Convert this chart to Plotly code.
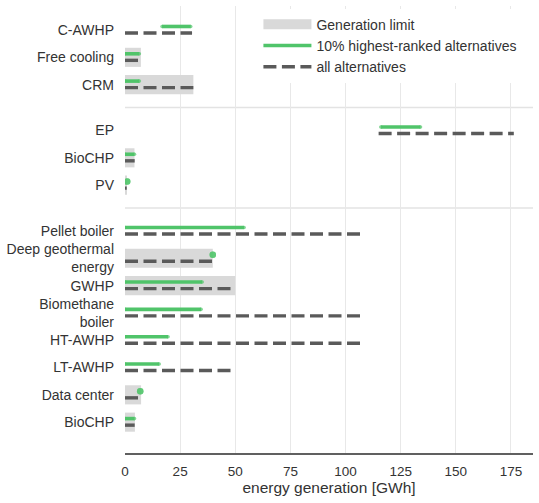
import plotly.graph_objects as go

# ---------------- data ----------------
groups = [
    ["C-AWHP", "Free cooling", "CRM"],
    ["EP", "BioCHP", "PV"],
    ["Pellet boiler", "Deep geothermal<br>energy", "GWHP", "Biomethane<br>boiler",
     "HT-AWHP", "LT-AWHP", "Data center", "BioCHP"],
]
generation_limit = [None, 7.2, 31.0,
                    None, 4.3, 0.5,
                    None, 39.8, 50.0, None, None, None, 7.3, 4.5]
top10_min = [16.8, 0.0, 0.0,
             116.0, 0.0, 1.0,
             0.0, 39.8, 0.0, 0.0, 0.0, 0.0, 6.9, 0.0]
top10_max = [29.8, 6.5, 6.5,
             134.0, 4.3, 1.0,
             54.0, 39.8, 35.0, 34.5, 19.5, 15.5, 6.9, 4.3]
all_min = [0.0, 0.0, 0.0,
           115.0, 0.0, 0.0,
           0.0, 0.0, 0.0, 0.0, 0.0, 0.0, 0.0, 0.0]
all_max = [30.4, 6.3, 31.0,
           176.3, 4.4, 0.8,
           107.0, 39.8, 49.5, 107.0, 107.0, 49.0, 6.3, 4.4]
x_ticks = [0, 25, 50, 75, 100, 125, 150, 175]

# ---------------- layout helpers ----------------
GAP = 1.68
labels, positions, separators = [], [], []
p = 0.0
for gi, g in enumerate(groups):
    if gi > 0:
        separators.append(p - 1 + GAP / 2)
        p += GAP - 1
    for lab in g:
        labels.append(lab)
        positions.append(p)
        p += 1

GREEN = "#50c46a"
DARK = "#5a5a5a"
LIGHT = "#d9d9d9"
OFF_G = -0.13
OFF_D = 0.11

fig = go.Figure()

fig.add_trace(go.Bar(
    x=generation_limit, y=positions, base=0, orientation="h", width=0.7,
    marker=dict(color=LIGHT, line=dict(width=0)), showlegend=False, hoverinfo="skip",
))
fig.add_trace(go.Scatter(
    x=[None], y=[None], mode="lines", name="Generation limit",
    line=dict(color=LIGHT, width=10),
))

gx, gy, gs = [], [], []
for y0, a, b in zip(positions, top10_min, top10_max):
    sz = 6.5 if a == b else 3.6
    gx += [a, b, None]
    gy += [y0 + OFF_G, y0 + OFF_G, None]
    gs += [sz, sz, 0]
fig.add_trace(go.Scatter(
    x=gx, y=gy, mode="lines+markers", name="10% highest-ranked alternatives",
    line=dict(color=GREEN, width=3.6),
    marker=dict(color=GREEN, size=gs, line=dict(width=0)),
))

dx, dy = [], []
for y0, a, b in zip(positions, all_min, all_max):
    dx += [a, b, None]
    dy += [y0 + OFF_D, y0 + OFF_D, None]
fig.add_trace(go.Scatter(
    x=dx, y=dy, mode="lines", name="all alternatives",
    line=dict(color=DARK, width=3.4, dash="13px,5.5px"),
))

for s in separators:
    fig.add_shape(type="line", xref="paper", x0=0, x1=1, yref="y", y0=s, y1=s,
                  line=dict(color="#e3e3e3", width=1.5), layer="below")

FONT = "Liberation Sans, Arial, sans-serif"
fig.update_layout(
    width=539, height=503,
    margin=dict(l=125, r=6, t=6, b=50),
    plot_bgcolor="white", paper_bgcolor="white",
    font=dict(family=FONT, size=14, color="#333333"),
    barmode="overlay",
    legend=dict(x=0.327, y=0.994, xanchor="left", yanchor="top",
                bgcolor="white", borderwidth=0, font=dict(size=14, color="#333333"),
                tracegroupgap=0, itemsizing="trace", itemwidth=48),
    xaxis=dict(
        range=[0, 185], tickvals=x_ticks, showgrid=True, gridcolor="#e8e8e8", gridwidth=1,
        zeroline=False, showline=True, linecolor="#606060", linewidth=2,
        ticks="", ticklabelstandoff=5, tickfont=dict(size=13.5),
        title=dict(text="energy generation [GWh]", font=dict(size=15.5), standoff=0),
    ),
    yaxis=dict(
        range=[15.49, -0.88], tickvals=positions, ticktext=labels,
        showgrid=False, zeroline=False, showline=False, ticks="",
        ticklabelstandoff=10, tickfont=dict(size=14),
    ),
)

fig.write_html("out.html")
